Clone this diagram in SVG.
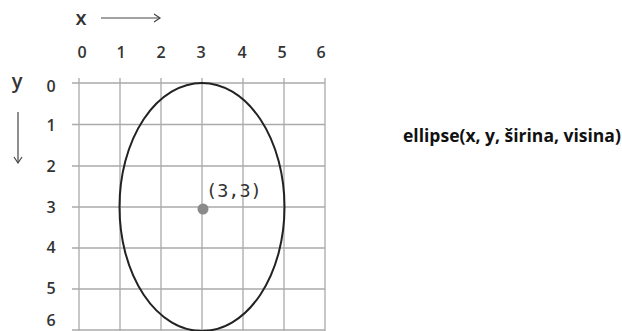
<svg xmlns="http://www.w3.org/2000/svg" width="622" height="331" viewBox="0 0 622 331">
<style>
.grid{stroke:#aaaaaa;stroke-width:1.3;fill:none}
.num{font-family:"Open Sans","DejaVu Sans",sans-serif;font-weight:600;font-size:16px;fill:#333;text-anchor:middle}
.ax{font-family:"Open Sans","DejaVu Sans",sans-serif;font-weight:600;font-size:20px;fill:#333;text-anchor:middle}
.arr{stroke:#444;stroke-width:1.2;fill:none}
</style>
<rect width="622" height="331" fill="#fff"/>
<g id="axes">
<text class="ax" x="81" y="25">x</text>
<line class="arr" x1="101" y1="18" x2="160" y2="18"/>
<path class="arr" d="M154,14 L160,18 L154,22"/>
<text class="ax" x="17" y="88">y</text>
<line class="arr" x1="18" y1="112" x2="18" y2="163"/>
<path class="arr" d="M14,157 L18,163 L22,157"/>
</g>
<g id="grid">
<path class="grid" d="M72,83H325M72,124.5H325M72,166H325M72,207H325M72,248H325M72,289H325M72,330H325"/>
<path class="grid" d="M79,78V331M120,78V331M161,78V331M202,78V331M243,78V331M284,78V331M325,78V331"/>
</g>
<g id="xlabels">
<text class="num" x="82" y="58">0</text>
<text class="num" x="121" y="58">1</text>
<text class="num" x="161" y="58">2</text>
<text class="num" x="201" y="58">3</text>
<text class="num" x="242" y="58">4</text>
<text class="num" x="282" y="58">5</text>
<text class="num" x="321" y="58">6</text>
</g>
<g id="ylabels">
<text class="num" x="51" y="92">0</text>
<text class="num" x="51" y="131">1</text>
<text class="num" x="51" y="172">2</text>
<text class="num" x="51" y="213">3</text>
<text class="num" x="51" y="253">4</text>
<text class="num" x="51" y="294">5</text>
<text class="num" x="51" y="326">6</text>
</g>
<g id="ellipse">
<ellipse cx="202" cy="207" rx="82.5" ry="124" fill="none" stroke="#222" stroke-width="2"/>
</g>
<g id="center">
<circle cx="203" cy="209" r="5.5" fill="#8a8a8a"/>
<text x="206" y="197" font-family="'DejaVu Sans Mono','Liberation Mono',monospace" font-size="18.5" fill="#333">(3,3)</text>
</g>
<g id="caption">
<text x="403" y="142" font-family="'Open Sans','Liberation Sans',sans-serif" font-weight="700" font-size="17.5" fill="#111">ellipse(x, y, širina, visina)</text>
</g>
</svg>
